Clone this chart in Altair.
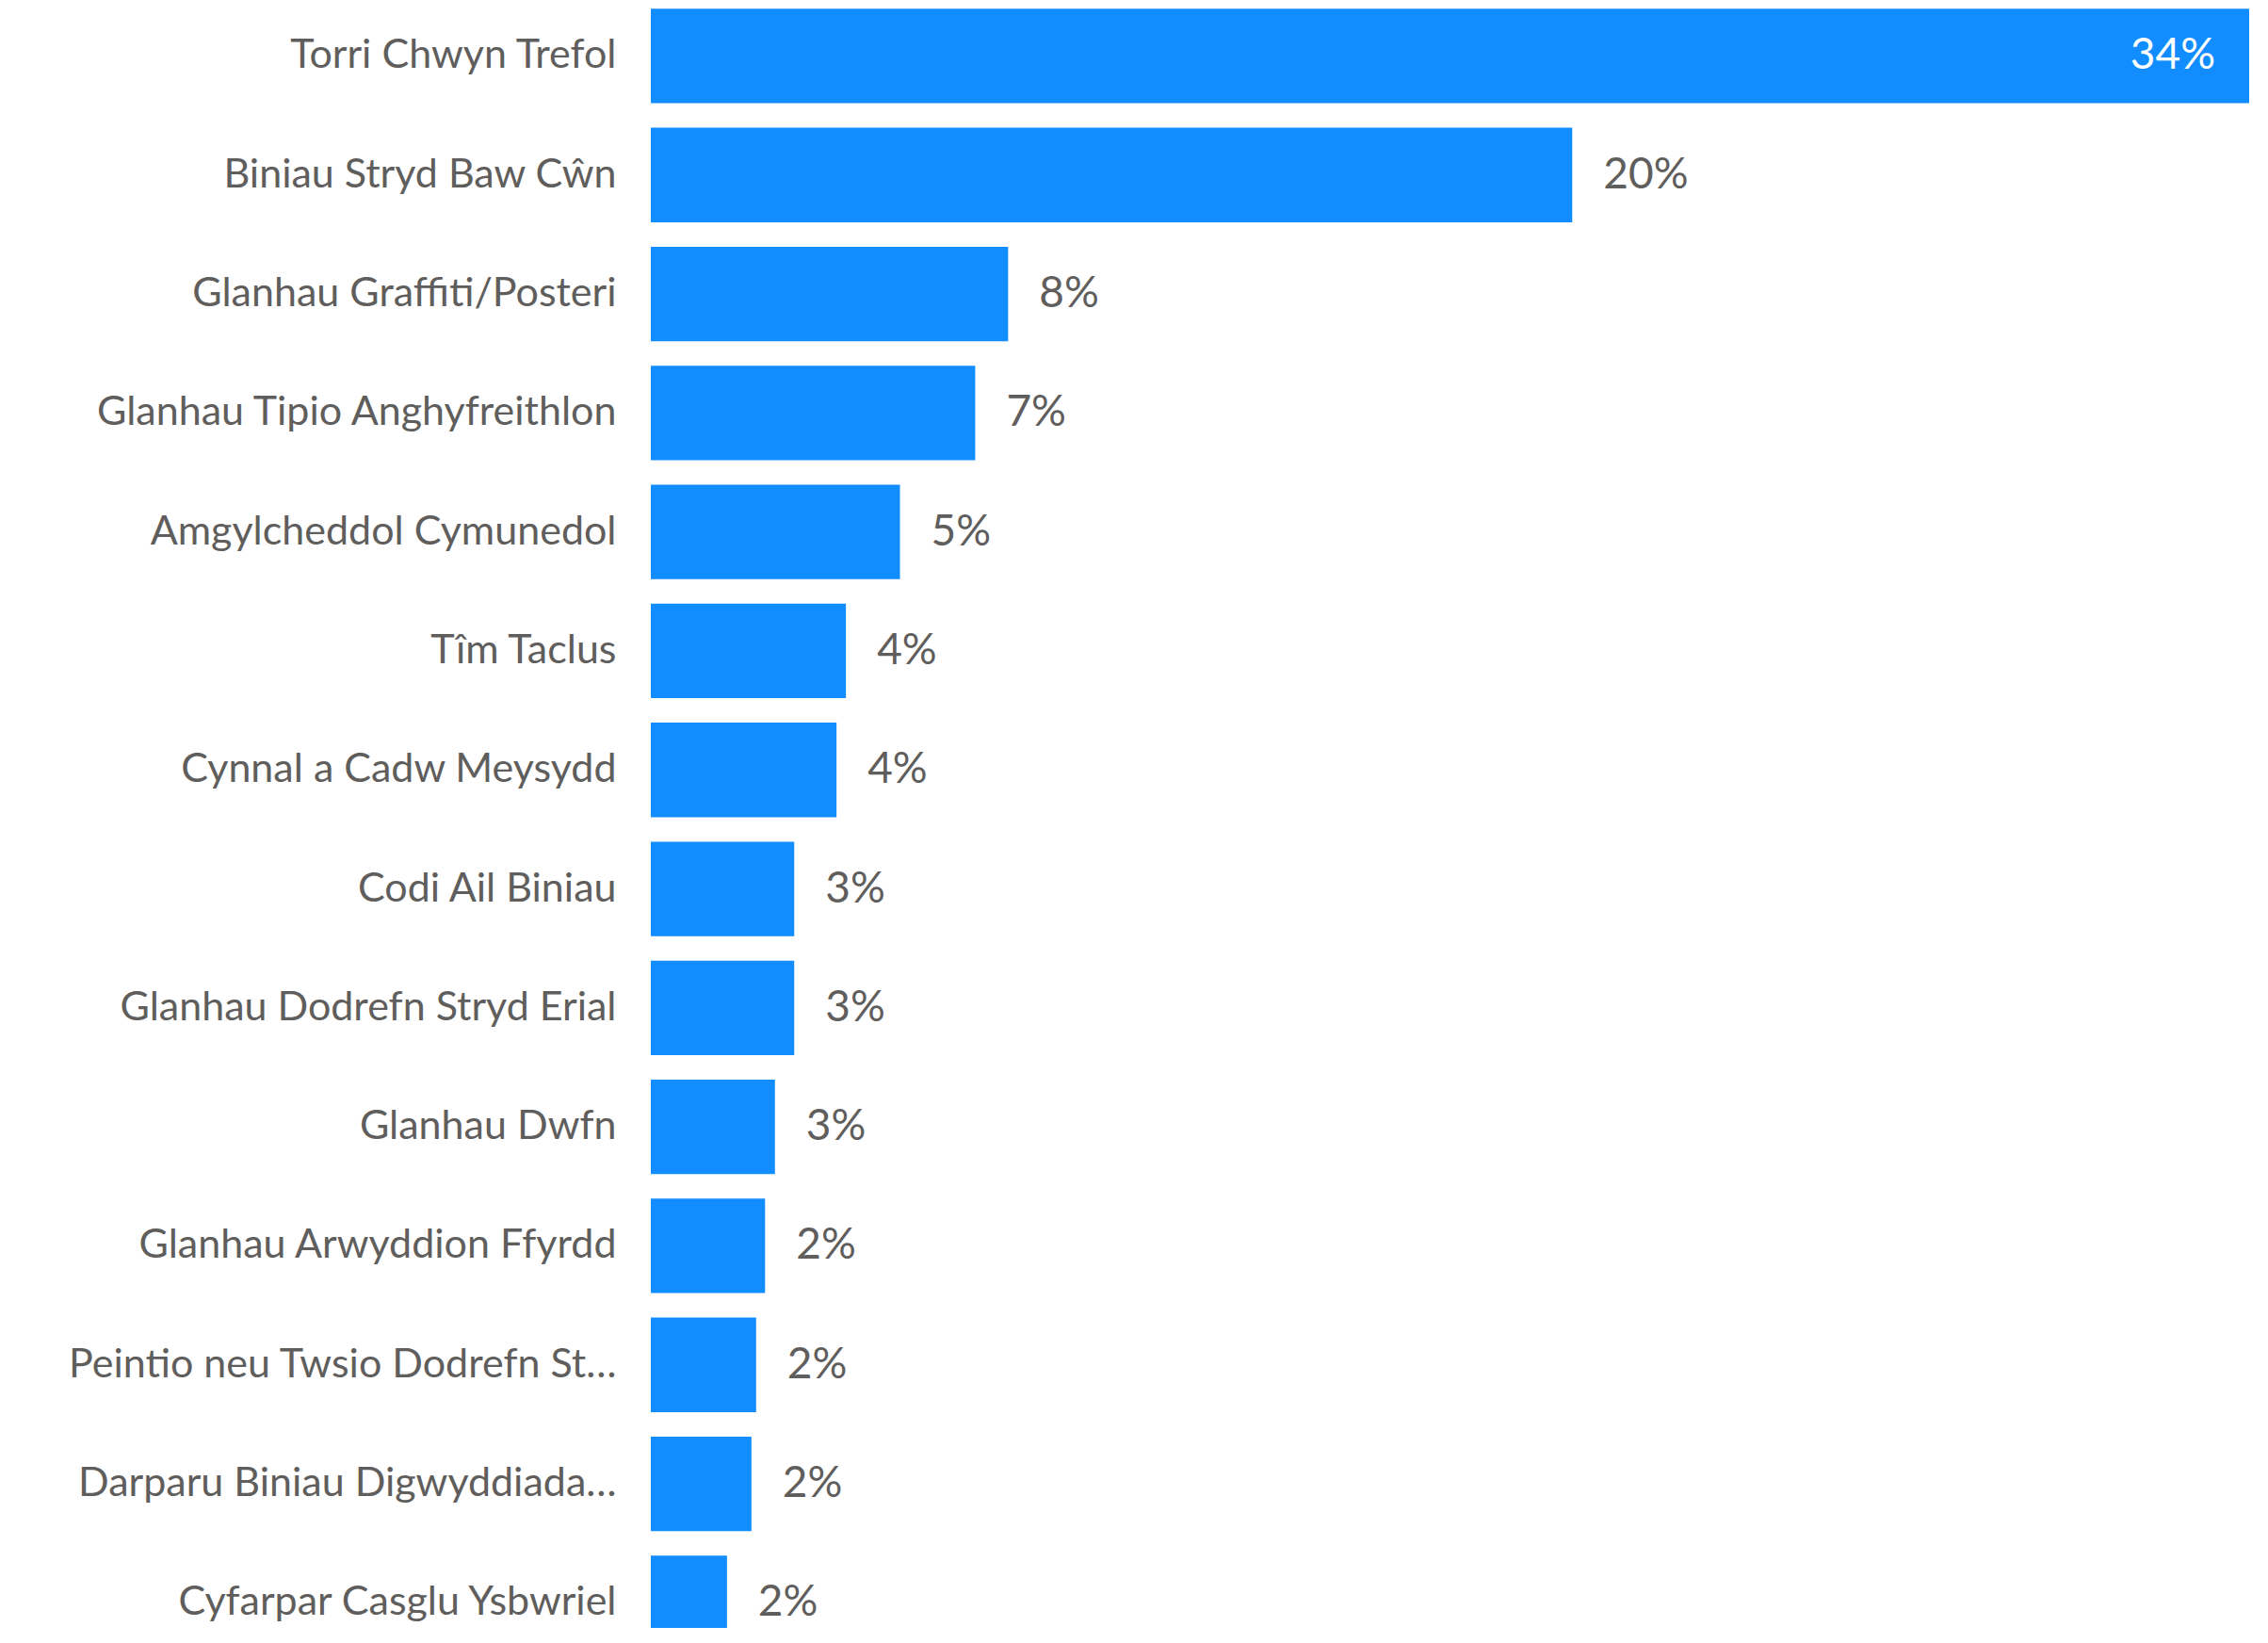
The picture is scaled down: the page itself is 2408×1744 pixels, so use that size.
import altair as alt
import pandas as pd

categories = [
    "Torri Chwyn Trefol",
    "Biniau Stryd Baw Cŵn",
    "Glanhau Graffiti/Posteri",
    "Glanhau Tipio Anghyfreithlon",
    "Amgylcheddol Cymunedol",
    "Tîm Taclus",
    "Cynnal a Cadw Meysydd",
    "Codi Ail Biniau",
    "Glanhau Dodrefn Stryd Erial",
    "Glanhau Dwfn",
    "Glanhau Arwyddion Ffyrdd",
    "Peintio neu Twsio Dodrefn St…",
    "Darparu Biniau Digwyddiada…",
    "Cyfarpar Casglu Ysbwriel",
]
shares = [0.340, 0.196, 0.076, 0.069, 0.053, 0.0415, 0.0395, 0.0305, 0.0305,
          0.0264, 0.0243, 0.0224, 0.0214, 0.0162]

df = pd.DataFrame({"category": categories, "share": shares})

FONT = "Lato"
BAR = "#118DFF"
GREY = "#605E5C"

y_enc = alt.Y(
    "category:N",
    sort=categories,
    scale=alt.Scale(paddingInner=0.206, paddingOuter=0, range=[1.3, 1743.5]),
    axis=alt.Axis(
        title=None, domain=False, ticks=False, labelFontSize=43,
        labelColor=GREY, labelFont=FONT, labelPadding=37,
        minExtent=683, maxExtent=683, labelLimit=0,
    ),
)
x_enc = alt.X("share:Q", scale=alt.Scale(nice=False, zero=True), axis=None)

base = alt.Chart(df).transform_joinaggregate(mx="max(share)")

bars = base.mark_bar(color=BAR, clip=True).encode(x=x_enc, y=y_enc)

outside = base.transform_filter("datum.share < datum.mx").mark_text(
    align="left", baseline="middle", dx=33, fontSize=46, font=FONT, color=GREY
).encode(x=x_enc, y=y_enc, text=alt.Text("share:Q", format=".0%"))

inside = base.transform_filter("datum.share >= datum.mx").mark_text(
    align="right", baseline="middle", dx=-36, fontSize=46, font=FONT, color="white"
).encode(x=x_enc, y=y_enc, text=alt.Text("share:Q", format=".0%"))

chart = (
    alt.layer(bars, outside, inside)
    .properties(width=1697, height=1720, padding=0)
    .configure_view(stroke=None)
)

chart.save("out.html", embed_options={"renderer": "svg", "actions": False})
